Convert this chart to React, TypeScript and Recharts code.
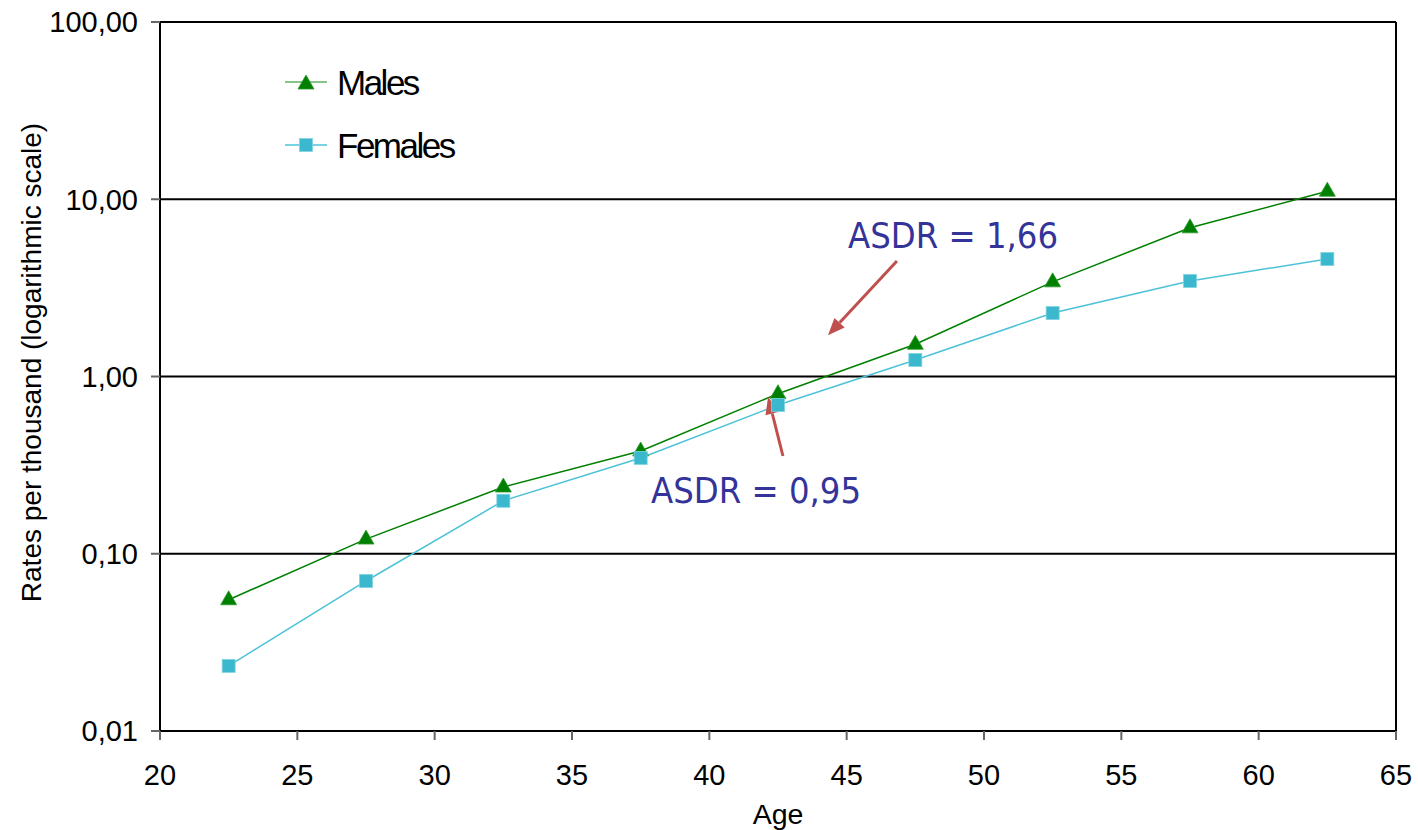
import React from 'react';
import {
  LineChart, Line, XAxis, YAxis, CartesianGrid, ReferenceLine, ReferenceDot, Legend,
} from 'recharts';

const ages = [22.5, 27.5, 32.5, 37.5, 42.5, 47.5, 52.5, 57.5, 62.5];
const males = [0.055, 0.121, 0.238, 0.38, 0.8, 1.52, 3.42, 6.9, 11.1];
const females = [0.0233, 0.0702, 0.199, 0.347, 0.69, 1.24, 2.28, 3.46, 4.6];
const xTicks = [20, 25, 30, 35, 40, 45, 50, 55, 60, 65];
const yTicks = [0.01, 0.1, 1, 10, 100];
const seriesNames = ['Males', 'Females'];
const annotations = [
  { text: 'ASDR = 1,66', x: 45.05, y: 5.31, arrow: [{ x: 46.83, y: 4.48 }, { x: 44.32, y: 1.71 }] },
  { text: 'ASDR = 0,95', x: 37.88, y: 0.193, arrow: [{ x: 42.68, y: 0.356 }, { x: 42.14, y: 0.766 }] },
];

const data = ages.map((a, i) => ({ age: a, males: males[i], females: females[i] }));

const MALE = '#008000';
const FEMALE_FILL = '#3cb8ce';
const FEMALE_LINE = '#4cc2d8';
const ANNOT = '#333399';
const ARROW = '#c0504d';

const fmt = (v: number) => v.toFixed(2).replace('.', ',');

const Triangle = (props: any) => {
  const { cx, cy } = props;
  if (cx == null || cy == null) return null;
  return (
    <polygon
      points={`${cx},${cy - 9} ${cx - 8},${cy + 5} ${cx + 8},${cy + 5}`}
      fill={MALE}
      stroke="#2f9a2f"
      strokeWidth={0.8}
    />
  );
};

const Square = (props: any) => {
  const { cx, cy } = props;
  if (cx == null || cy == null) return null;
  return <rect x={cx - 6.5} y={cy - 6.5} width={13} height={13} fill={FEMALE_FILL} stroke="#7fd3e2" strokeWidth={0.8} />;
};

const ArrowShape = (props: any) => {
  const { x1, y1, x2, y2 } = props;
  if ([x1, y1, x2, y2].some((v) => v == null || isNaN(v))) return null;
  const dx = x2 - x1;
  const dy = y2 - y1;
  const len = Math.sqrt(dx * dx + dy * dy);
  const ux = dx / len;
  const uy = dy / len;
  const hl = 17;
  const hw = 7;
  const bx = x2 - ux * hl;
  const by = y2 - uy * hl;
  const px = -uy;
  const py = ux;
  return (
    <g>
      <line x1={x1} y1={y1} x2={bx} y2={by} stroke={ARROW} strokeWidth={3} />
      <polygon points={`${x2},${y2} ${bx + px * hw},${by + py * hw} ${bx - px * hw},${by - py * hw}`} fill={ARROW} />
    </g>
  );
};

const makeText = (text: string) => (props: any) => {
  const { cx, cy } = props;
  if (cx == null || cy == null) return null;
  return (
    <text x={cx} y={cy} fill={ANNOT} fontSize={36} fontFamily="'DejaVu Sans Condensed', 'DejaVu Sans', sans-serif">
      {text}
    </text>
  );
};

const LegendContent = () => (
  <svg width={220} height={120} style={{ display: 'block' }}>
    <line x1={5} y1={32} x2={47} y2={32} stroke="#5fb05f" strokeWidth={1.5} />
    <Triangle cx={26} cy={34} />
    <text x={57} y={32} dominantBaseline="central" fontSize={35} letterSpacing={-2.5} fontFamily="'Liberation Sans', Arial, sans-serif" fill="#000">
      {seriesNames[0]}
    </text>
    <line x1={5} y1={95} x2={47} y2={95} stroke={FEMALE_LINE} strokeWidth={1.5} />
    <Square cx={26} cy={95} />
    <text x={57} y={95} dominantBaseline="central" fontSize={35} letterSpacing={-2.5} fontFamily="'Liberation Sans', Arial, sans-serif" fill="#000">
      {seriesNames[1]}
    </text>
  </svg>
);

const YTitle = (props: any) => {
  const { viewBox } = props;
  const cx = 41;
  const cy = viewBox ? viewBox.y + viewBox.height / 2 - 14 : 363;
  return (
    <text x={cx} y={cy} transform={`rotate(-90, ${cx}, ${cy})`} textAnchor="middle" fontSize={28} fontFamily="'Liberation Sans', Arial, sans-serif" fill="#000">
      Rates per thousand (logarithmic scale)
    </text>
  );
};

const XTitle = (props: any) => {
  const { viewBox } = props;
  const cx = viewBox ? viewBox.x + viewBox.width / 2 : 778;
  return (
    <text x={cx} y={824} textAnchor="middle" fontSize={28.5} fontFamily="'Liberation Sans', Arial, sans-serif" fill="#000">
      Age
    </text>
  );
};

export default function App() {
  return (
    <div style={{ width: 1418, height: 830, background: '#fff' }}>
      <style>{`body{margin:0;background:#fff}`}</style>
      <LineChart width={1418} height={830} data={data} margin={{ top: 22, right: 22, left: 0, bottom: 0 }}>
        <CartesianGrid horizontal vertical={false} stroke="#000" strokeWidth={2} />
        <XAxis
          dataKey="age"
          type="number"
          domain={[20, 65]}
          ticks={xTicks}
          interval={0}
          height={99}
          tickSize={9}
          tickMargin={24}
          axisLine={{ stroke: '#000', strokeWidth: 2 }}
          tickLine={{ stroke: '#666', strokeWidth: 2 }}
          tick={{ fill: '#000', fontSize: 29, fontFamily: "'Liberation Sans', Arial, sans-serif" }}
          label={XTitle}
        />
        <YAxis
          type="number"
          scale="log"
          domain={[0.01, 100]}
          ticks={yTicks}
          interval={0}
          allowDataOverflow
          width={160}
          tickSize={9}
          tickMargin={13}
          tickFormatter={fmt}
          axisLine={{ stroke: '#000', strokeWidth: 2 }}
          tickLine={{ stroke: '#666', strokeWidth: 2 }}
          tick={{ fill: '#000', fontSize: 29, fontFamily: "'Liberation Sans', Arial, sans-serif" }}
          label={YTitle}
        />
        <ReferenceLine x={65} stroke="#000" strokeWidth={2} />
        <Legend
          layout="vertical"
          align="center"
          verticalAlign="middle"
          content={LegendContent}
          wrapperStyle={{ position: 'absolute', left: 280, top: 50, width: 220, height: 120 }}
        />
        <Line dataKey="males" name={seriesNames[0]} stroke={MALE} strokeWidth={1.5} dot={<Triangle />} isAnimationActive={false} legendType="triangle" />
        <Line dataKey="females" name={seriesNames[1]} stroke={FEMALE_LINE} strokeWidth={1.5} dot={<Square />} isAnimationActive={false} legendType="square" />
        {annotations.map((a, i) => (
          <ReferenceLine key={`arr${i}`} segment={a.arrow} shape={ArrowShape} ifOverflow="visible" />
        ))}
        {annotations.map((a, i) => (
          <ReferenceDot key={`txt${i}`} x={a.x} y={a.y} r={0} shape={makeText(a.text)} ifOverflow="visible" />
        ))}
      </LineChart>
    </div>
  );
}
